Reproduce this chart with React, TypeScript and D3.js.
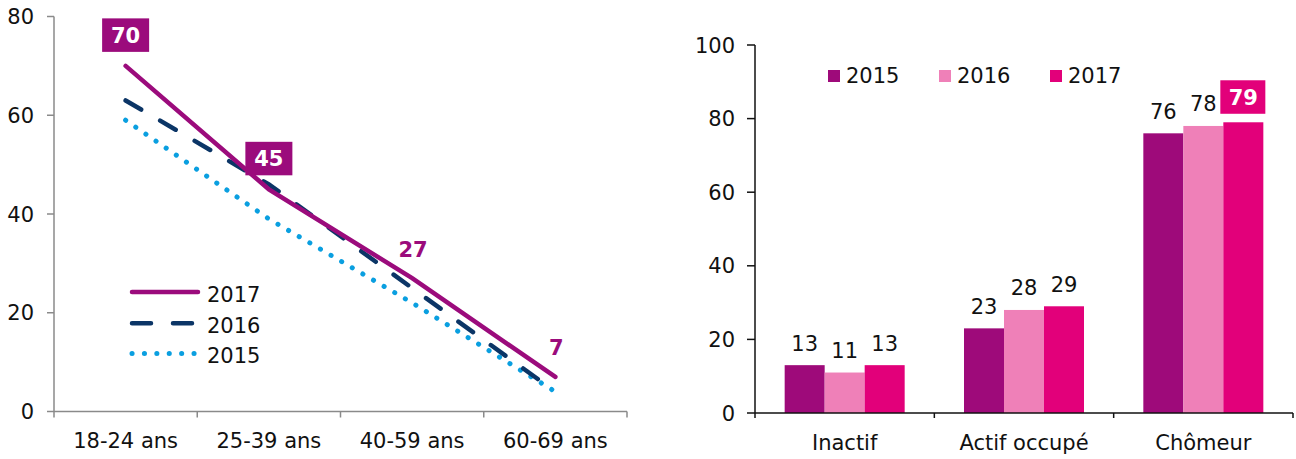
import React from "react";
import * as d3 from "d3";

const ageCats = ["18-24 ans", "25-39 ans", "40-59 ans", "60-69 ans"];
const line2017 = [70, 45, 27, 7];
const line2016 = [63, 46, 25, 4];
const line2015 = [59, 39, 22, 4];
const leftTicks = [0, 20, 40, 60, 80];

const statusCats = ["Inactif", "Actif occupé", "Chômeur"];
const years = ["2015", "2016", "2017"];
const bar2015 = [13, 23, 76];
const bar2016 = [11, 28, 78];
const bar2017 = [13, 29, 79];
const rightTicks = [0, 20, 40, 60, 80, 100];

const PURPLE = "#9B0B7C";
const NAVY = "#0B3566";
const LBLUE = "#0A9FE0";
const BAR_COLORS = ["#9E0A7A", "#EF80B8", "#E2007A"];
const FONT = "'DejaVu Sans', Verdana, sans-serif";

export default function App() {
  // Left chart
  const lx0 = 54, lx1 = 627, ly0 = 411.5, ly1 = 16.5;
  const xBand = d3.scaleBand<string>().domain(ageCats).range([lx0, lx1]).padding(0);
  const xPt = d3.scalePoint<string>().domain(ageCats).range([lx0, lx1]).padding(0.5);
  const yL = d3.scaleLinear().domain([0, 80]).range([ly0, ly1]);
  const lineGen = d3
    .line<number>()
    .x((_, i) => xPt(ageCats[i]) as number)
    .y((d) => yL(d));

  // Right chart
  const rx0 = 755, rx1 = 1293, ry0 = 413, ry1 = 45;
  const xR = d3.scaleBand<string>().domain(statusCats).range([rx0, rx1]).padding(0);
  const bw = xR.bandwidth();
  const xInner = d3.scaleBand<string>().domain(years).range([bw / 2 - 60, bw / 2 + 60]).padding(0);
  const yR = d3.scaleLinear().domain([0, 100]).range([ry0, ry1]);
  const barSeries = [bar2015, bar2016, bar2017];

  const leftBoundaries = [...ageCats.map((c) => xBand(c) as number), lx1];
  const rightBoundaries = [...statusCats.map((c) => xR(c) as number), rx1];

  return (
    <svg
      width={1296}
      height={459}
      style={{ position: "absolute", left: 0, top: 0, background: "#fff" }}
      fontFamily={FONT}
    >
      <rect x={0} y={0} width={1296} height={459} fill="#fff" />
      {/* LEFT CHART */}
      <g>
        {/* axes */}
        <line x1={lx0} x2={lx0} y1={ly1} y2={ly0} stroke="#8a8a8a" strokeWidth={1.5} />
        <line x1={lx0} x2={lx1} y1={ly0} y2={ly0} stroke="#8a8a8a" strokeWidth={1.5} />
        {leftTicks.map((t) => (
          <g key={t}>
            <line x1={lx0 - 7} x2={lx0} y1={yL(t)} y2={yL(t)} stroke="#8a8a8a" strokeWidth={1.5} />
            <text x={34} y={yL(t) + 7.5} textAnchor="end" fontSize={21} fill="#111">
              {t}
            </text>
          </g>
        ))}
        {leftBoundaries.map((b, i) => (
          <line key={i} x1={b} x2={b} y1={ly0} y2={ly0 + 6} stroke="#8a8a8a" strokeWidth={1.5} />
        ))}
        {ageCats.map((c) => (
          <text key={c} x={xPt(c) as number} y={448} textAnchor="middle" fontSize={21} fill="#111">
            {c}
          </text>
        ))}
        {/* lines */}
        <path
          d={lineGen(line2015) || ""}
          fill="none"
          stroke={LBLUE}
          strokeWidth={5}
          strokeLinecap="round"
          strokeDasharray="0.1 12.2"
        />
        <path
          d={lineGen(line2016) || ""}
          fill="none"
          stroke={NAVY}
          strokeWidth={4.5}
          strokeLinecap="round"
          strokeDasharray="18 22"
        />
        <path d={lineGen(line2017) || ""} fill="none" stroke={PURPLE} strokeWidth={4.5} strokeLinecap="round" />
        {/* labels */}
        {line2017.map((v, i) => {
          const cx = xPt(ageCats[i]) as number;
          const cy = yL(v);
          if (i < 2) {
            return (
              <g key={i}>
                <rect x={cx - 23.5} y={cy - 47.5} width={47} height={33.5} fill={PURPLE} />
                <text x={cx} y={cy - 23} textAnchor="middle" fontSize={21} fontWeight="bold" fill="#fff">
                  {v}
                </text>
              </g>
            );
          }
          return (
            <text key={i} x={cx + 1} y={cy - 21.5} textAnchor="middle" fontSize={21} fontWeight="bold" fill={PURPLE}>
              {v}
            </text>
          );
        })}
        {/* legend */}
        {[
          { label: "2017", y: 292, stroke: PURPLE, dash: undefined, w: 4.5 },
          { label: "2016", y: 323.3, stroke: NAVY, dash: "19 22", w: 4.5 },
          { label: "2015", y: 353.5, stroke: LBLUE, dash: "0.1 12.3", w: 5 },
        ].map((l) => (
          <g key={l.label}>
            <line
              x1={132}
              x2={l.dash === "0.1 12.3" ? 196 : 198}
              y1={l.y}
              y2={l.y}
              stroke={l.stroke}
              strokeWidth={l.w}
              strokeLinecap="round"
              strokeDasharray={l.dash}
            />
            <text x={207} y={l.y + 9.5} fontSize={21} fill="#111">
              {l.label}
            </text>
          </g>
        ))}
      </g>

      {/* RIGHT CHART */}
      <g>
        {statusCats.map((c, ci) =>
          years.map((yr, yi) => {
            const v = barSeries[yi][ci];
            const x = (xR(c) as number) + (xInner(yr) as number);
            return (
              <rect
                key={c + yr}
                x={x}
                y={yR(v)}
                width={xInner.bandwidth()}
                height={ry0 - yR(v)}
                fill={BAR_COLORS[yi]}
              />
            );
          })
        )}
        {statusCats.map((c, ci) =>
          years.map((yr, yi) => {
            const v = barSeries[yi][ci];
            const cx = (xR(c) as number) + (xInner(yr) as number) + xInner.bandwidth() / 2;
            const top = yR(v);
            if (ci === 2 && yi === 2) {
              return (
                <g key={"l" + c + yr}>
                  <rect x={cx - 23} y={top - 42} width={45} height={33.5} fill={BAR_COLORS[2]} />
                  <text x={cx} y={top - 17.5} textAnchor="middle" fontSize={21} fontWeight="bold" fill="#fff">
                    {v}
                  </text>
                </g>
              );
            }
            return (
              <text key={"l" + c + yr} x={cx} y={top - 14.5} textAnchor="middle" fontSize={21} fill="#111">
                {v}
              </text>
            );
          })
        )}
        <line x1={rx0} x2={rx0} y1={ry1} y2={ry0} stroke="#111" strokeWidth={1.5} />
        <line x1={rx0} x2={rx1} y1={ry0} y2={ry0} stroke="#111" strokeWidth={1.5} />
        {rightTicks.map((t) => (
          <g key={t}>
            <line x1={rx0 - 8} x2={rx0} y1={yR(t)} y2={yR(t)} stroke="#111" strokeWidth={1.5} />
            <text x={735} y={yR(t) + 7.5} textAnchor="end" fontSize={21} fill="#111">
              {t}
            </text>
          </g>
        ))}
        {rightBoundaries.map((b, i) => (
          <line key={i} x1={b} x2={b} y1={ry0} y2={ry0 + 5} stroke="#111" strokeWidth={1.5} />
        ))}
        {statusCats.map((c) => (
          <text key={c} x={(xR(c) as number) + bw / 2} y={450} textAnchor="middle" fontSize={21} fill="#111">
            {c}
          </text>
        ))}
        {/* legend */}
        {years.map((yr, i) => (
          <g key={"lg" + yr}>
            <rect x={828 + i * 111} y={70} width={12} height={12} fill={BAR_COLORS[i]} />
            <text x={846 + i * 111} y={83.3} fontSize={21} fill="#111">
              {yr}
            </text>
          </g>
        ))}
      </g>
    </svg>
  );
}
